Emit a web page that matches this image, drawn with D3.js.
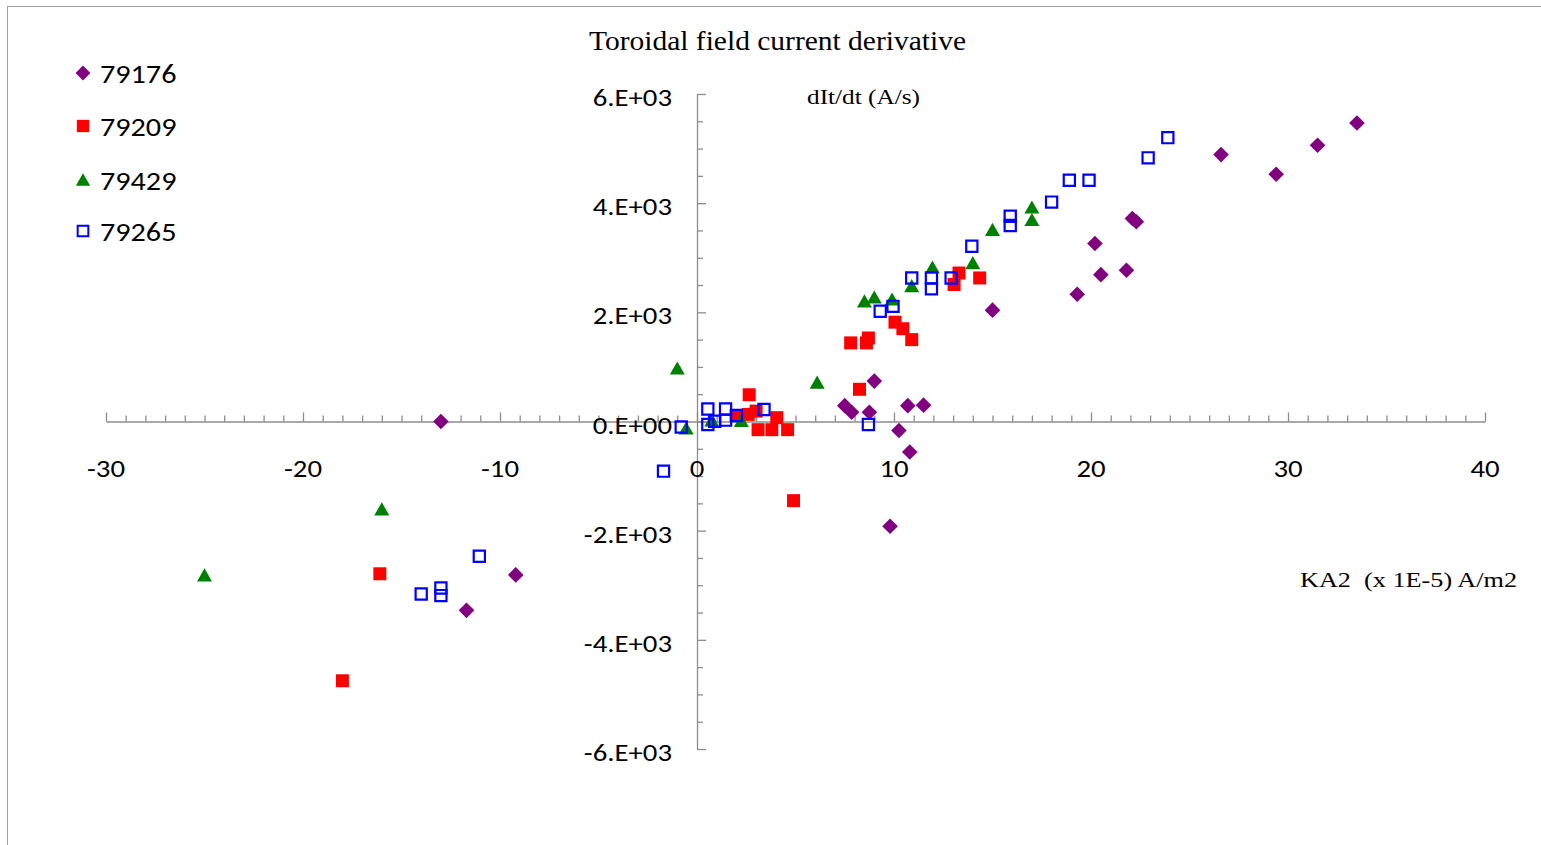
<!DOCTYPE html>
<html>
<head>
<meta charset="utf-8">
<script src="https://cdn.jsdelivr.net/npm/d3@7"></script>
<style>
  html, body { margin: 0; padding: 0; background: #fff; }
  svg { display: block; }
  .tick-label { font-family: Carlito, Lato, "Liberation Sans", sans-serif; font-size: 25px; fill: #000; }
  .legend-label { font-family: Carlito, Lato, "Liberation Sans", sans-serif; font-size: 26px; fill: #000; }
  .serif { font-family: "Liberation Serif", "Times New Roman", serif; fill: #000; white-space: pre; }
</style>
</head>
<body>
<svg id="chart" width="1541" height="845"></svg>
<script>
// Shot series: KA2 (x 1E-5 A/m2) against dIt/dt (A/s)
const seriesNames = ["79176", "79209", "79429", "79265"];

const shot79176 = [
  [-13.0, 0], [-9.2, -2810], [-11.7, -3460], [7.5, 290], [7.85, 170], [8.75, 170],
  [9.0, 740], [10.7, 290], [11.5, 300], [10.25, -165], [10.8, -560], [9.8, -1920],
  [15.0, 2040], [19.3, 2330], [20.5, 2690], [21.8, 2770], [20.2, 3260], [22.1, 3720],
  [22.3, 3660], [26.6, 4890], [29.4, 4530], [31.5, 5060], [33.5, 5470]
];
const shot79209 = [
  [-16.1, -2790], [-18.0, -4750], [2.0, 110], [2.65, 490], [2.6, 130], [3.0, 190],
  [3.1, -150], [3.8, -150], [4.05, 70], [4.6, -150], [4.9, -1450], [7.8, 1440],
  [8.6, 1440], [8.7, 1530], [8.25, 590], [10.05, 1820], [10.45, 1700], [10.9, 1500],
  [13.3, 2720], [13.05, 2510], [14.35, 2630]
];
const shot79429 = [
  [-16.0, -1610], [-25.0, -2820], [-1.0, 970], [-0.55, -130], [0.75, 20], [2.25, 10],
  [6.1, 710], [8.5, 2200], [9.0, 2270], [9.9, 2235], [10.9, 2480], [11.95, 2820],
  [14.0, 2900], [15.0, 3510], [17.0, 3920], [17.0, 3690]
];
const shot79265 = [
  [-11.05, -2470], [-14.0, -3160], [-13.0, -3050], [-13.0, -3190], [-1.7, -910],
  [-0.8, -100], [0.55, 230], [0.55, -55], [0.9, 5], [1.45, 230], [1.45, 25], [2.0, 110],
  [3.4, 220], [8.7, -55], [9.3, 2020], [9.95, 2110], [10.9, 2630], [11.9, 2630],
  [11.9, 2430], [12.9, 2630], [13.95, 3210], [15.9, 3760], [15.9, 3590], [18.0, 4020],
  [18.9, 4420], [19.9, 4420], [22.9, 4830], [23.9, 5200]
];

const xTickValues = [-30, -20, -10, 0, 10, 20, 30, 40];
const yTickValues = [6000, 4000, 2000, 0, -2000, -4000, -6000];
const yTickLabels = ["6.E+03", "4.E+03", "2.E+03", "0.E+00", "-2.E+03", "-4.E+03", "-6.E+03"];

const chartTitle = "Toroidal field current derivative";
const yTitle = "dIt/dt (A/s)";
const xTitle = "KA2  (x 1E-5) A/m2";

const svg = d3.select("#chart");

// widen text glyphs horizontally by a factor
function widen(sel, factor) {
  sel.each(function () {
    const w = this.getComputedTextLength();
    d3.select(this).attr("textLength", w * factor).attr("lengthAdjust", "spacingAndGlyphs");
  });
}

// outer chart border
svg.append("rect")
  .attr("x", 7.5).attr("y", 6.5).attr("width", 1560).attr("height", 860)
  .attr("fill", "none").attr("stroke", "#a0a0a0").attr("stroke-width", 1);

const x = d3.scaleLinear().domain([-30, 40]).range([106, 1485]);
const y = d3.scaleLinear().domain([-6000, 6000]).range([749, 94]);

const axisColor = "#8c8c8c";

// horizontal axis through y = 0, ticks pointing up
const gx = svg.append("g").attr("transform", `translate(0,${y(0)})`);
gx.call(d3.axisTop(x).tickValues(d3.range(-30, 41, 1)).tickSize(6).tickSizeOuter(0).tickFormat(""));
gx.call(g => g.selectAll(".tick line").filter(d => d % 10 === 0).attr("y2", -9));
gx.selectAll("path, line").attr("stroke", axisColor).attr("stroke-width", 1.3);

// vertical axis through x = 0, ticks pointing right
const gy = svg.append("g").attr("transform", `translate(${x(0)},0)`);
gy.call(d3.axisRight(y).tickValues(d3.range(-6000, 6001, 500)).tickSize(6).tickSizeOuter(0).tickFormat(""));
gy.call(g => g.selectAll(".tick line").filter(d => d % 2000 === 0).attr("x2", 9));
gy.selectAll("path, line").attr("stroke", axisColor).attr("stroke-width", 1.3);

// tick labels
svg.append("g").selectAll("text").data(xTickValues).join("text")
  .attr("class", "tick-label")
  .attr("x", d => x(d)).attr("y", 477)
  .attr("text-anchor", "middle")
  .text(d => d)
  .call(widen, 1.15);

svg.append("g").selectAll("text").data(yTickValues).join("text")
  .attr("class", "tick-label")
  .attr("x", 672).attr("y", d => y(d) + 12)
  .attr("text-anchor", "end")
  .text((d, i) => yTickLabels[i])
  .call(widen, 1.15);

// titles
svg.append("text").attr("class", "serif").attr("x", 777.5).attr("y", 50)
  .attr("text-anchor", "middle").style("font-size", "27px")
  .attr("textLength", 377).attr("lengthAdjust", "spacingAndGlyphs")
  .text(chartTitle);
svg.append("text").attr("class", "serif").attr("x", 807).attr("y", 104)
  .style("font-size", "21px")
  .attr("textLength", 113).attr("lengthAdjust", "spacingAndGlyphs")
  .text(yTitle);
svg.append("text").attr("class", "serif").attr("x", 1300).attr("y", 587)
  .style("font-size", "22px")
  .attr("textLength", 217).attr("lengthAdjust", "spacingAndGlyphs")
  .text(xTitle);

// marker shapes
const markers = {
  diamond: { path: s => `M0,${-s}L${s},0L0,${s}L${-s},0Z`, fill: "#800080", stroke: "none", size: 7.8 },
  square: { path: s => `M${-s},${-s}H${s}V${s}H${-s}Z`, fill: "#ff0000", stroke: "none", size: 6.5 },
  triangle: { path: s => `M0,${-s * 0.95}L${s},${s * 0.8}L${-s},${s * 0.8}Z`, fill: "#008000", stroke: "none", size: 7.5 },
  open: { path: s => `M${-s},${-s}H${s}V${s}H${-s}Z`, fill: "none", stroke: "#0000ff", size: 5.6 }
};
const seriesMarkers = ["diamond", "square", "triangle", "open"];
const seriesData = [shot79176, shot79209, shot79429, shot79265];

seriesData.forEach((data, i) => {
  const m = markers[seriesMarkers[i]];
  svg.append("g").selectAll("path").data(data).join("path")
    .attr("transform", d => `translate(${x(d[0])},${y(d[1])})`)
    .attr("d", m.path(m.size))
    .attr("fill", m.fill)
    .attr("stroke", m.stroke)
    .attr("stroke-width", m.stroke === "none" ? 0 : 2.2);
});

// legend
const legendY = [73, 126, 180, 231];
const legend = svg.append("g");
seriesNames.forEach((name, i) => {
  const m = markers[seriesMarkers[i]];
  legend.append("path")
    .attr("transform", `translate(83,${legendY[i]})`)
    .attr("d", m.path(m.size * 0.95))
    .attr("fill", m.fill)
    .attr("stroke", m.stroke)
    .attr("stroke-width", m.stroke === "none" ? 0 : 2);
  legend.append("text").attr("class", "legend-label")
    .attr("x", 100).attr("y", legendY[i] + 9.5)
    .text(name)
    .call(widen, 1.16);
});
</script>
</body>
</html>
